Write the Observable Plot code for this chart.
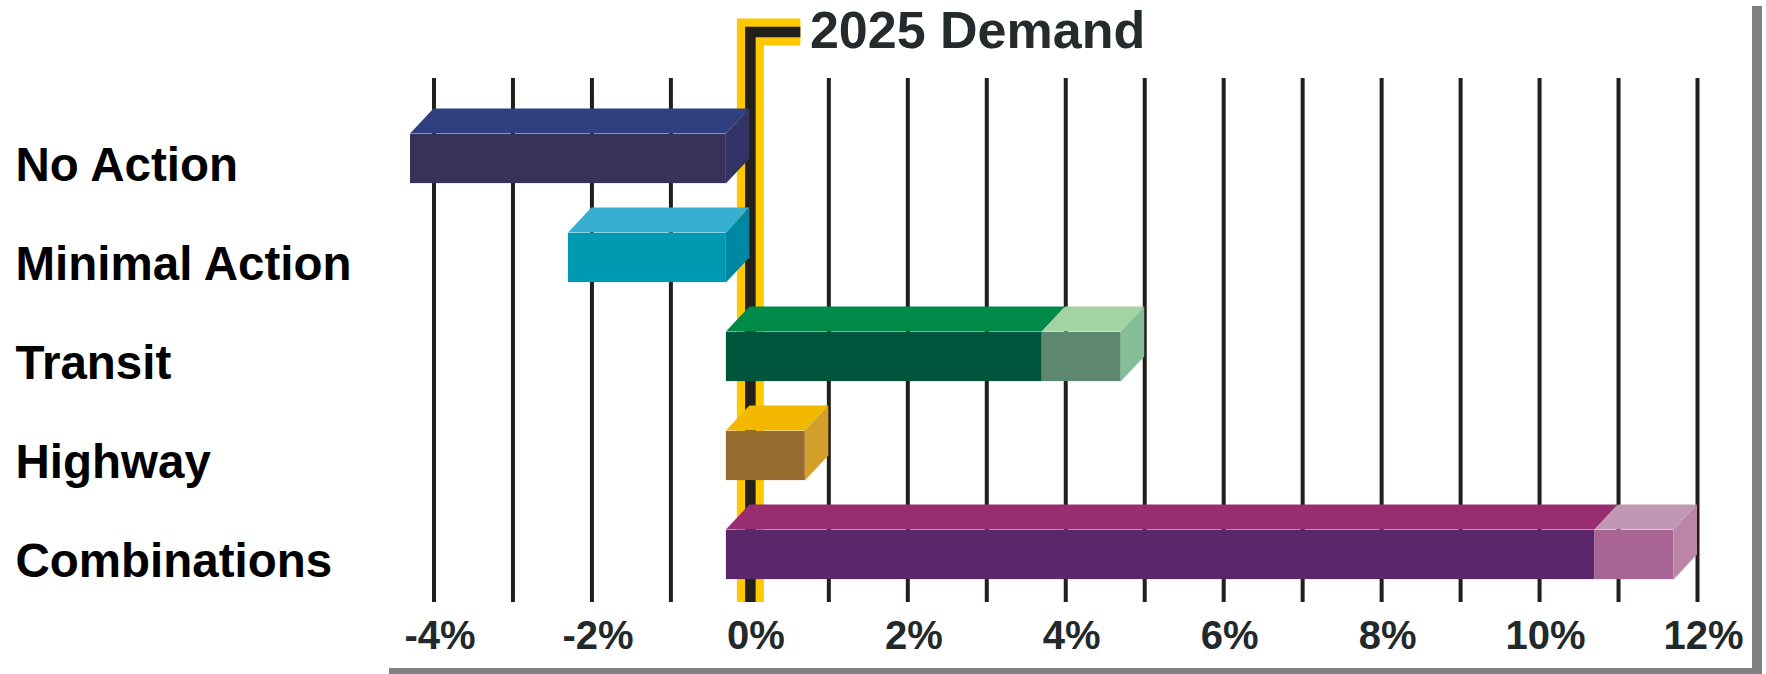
<!DOCTYPE html>
<html>
<head>
<meta charset="utf-8">
<script src="https://cdn.jsdelivr.net/npm/d3@7"></script>
<script src="https://cdn.jsdelivr.net/npm/@observablehq/plot@0.6"></script>
<style>
  html, body { margin: 0; padding: 0; background: #ffffff; }
  #chart { width: 1766px; height: 674px; overflow: hidden; }
</style>
</head>
<body>
<div id="chart"></div>
<script>
// ---- data ----
const categories = ["No Action", "Minimal Action", "Transit", "Highway", "Combinations"];
const segCategory = ["No Action", "Minimal Action", "Transit", "Transit", "Highway", "Combinations", "Combinations"];
const segStart    = [-4, -2, 0, 4, 0, 0, 11];
const segEnd      = [0, 0, 4, 5, 1, 11, 12];
const segFront    = ["#383159", "#0099B2", "#00553D", "#5E8770", "#986C30", "#59276A", "#A86492"];
const segTop      = ["#2F3F7F", "#36AFD0", "#008A4A", "#A3D2A3", "#F2B800", "#982E71", "#C297B3"];
const segSide     = ["#323468", "#0088A2", "#00704A", "#86BE98", "#D5A029", "#7A2A6E", "#BA85A7"];
const tickValues  = [-4, -2, 0, 2, 4, 6, 8, 10, 12];
const gridValues  = [-4, -3, -2, -1, 1, 2, 3, 4, 5, 6, 7, 8, 9, 10, 11, 12];
const demandValue = 0;
const demandLabel = "2025 Demand";

const segments = segCategory.map((c, i) => ({
  category: c, start: segStart[i], end: segEnd[i],
  front: segFront[i], top: segTop[i], side: segSide[i],
  showSide: !segCategory.some((c2, j) => j !== i && c2 === c && segStart[j] === segEnd[i])
}));

// ---- geometry constants (pixels) ----
const DX = 23.5;      // 3D depth, horizontal
const DY = 25;        // 3D depth, vertical
const FACE_H = 50;    // front face height
const BAND = 99.8;

const W = 1766, H = 674;
const FONT = "'Liberation Sans', Arial, Helvetica, sans-serif";

function tops3d(index, scales) {
  const {x, y} = scales;
  const bw = y.bandwidth();
  const g = d3.create("svg:g");
  for (const s of segments) {
    const yc = y(s.category) + bw / 2;
    const yf = yc - FACE_H / 2, yb = yc + FACE_H / 2;
    const xa = x(s.start), xb = x(s.end);
    g.append("polygon")
      .attr("points", [[xa - DX, yf], [xb - DX, yf], [xb, yf - DY], [xa, yf - DY]].join(" "))
      .attr("fill", s.top);
    if (s.showSide) {
      g.append("polygon")
        .attr("points", [[xb - DX, yf], [xb, yf - DY], [xb, yb - DY], [xb - DX, yb]].join(" "))
        .attr("fill", s.side);
    }
  }
  return g.node();
}

function demandBracket(index, scales, values, dims) {
  const x0 = scales.x(demandValue) + 1;
  const bottom = dims.height - dims.marginBottom;
  const top = dims.marginTop - 46;
  const d = `M${x0},${bottom} V${top} H${x0 + 50}`;
  const g = d3.create("svg:g").attr("fill", "none").attr("stroke-linejoin", "miter").attr("stroke-linecap", "butt");
  g.append("path").attr("d", d).attr("stroke", "#FFC800").attr("stroke-width", 27);
  g.append("path").attr("d", d).attr("stroke", "#231F1A").attr("stroke-width", 10.5);
  return g.node();
}

function frameShadow(index, scales, values, dims) {
  const g = d3.create("svg:g").attr("fill", "#808080");
  g.append("rect").attr("x", 1752).attr("y", 6).attr("width", 10).attr("height", dims.height - 6);
  g.append("rect").attr("x", 389).attr("y", dims.height - 6).attr("width", 1762 - 389).attr("height", 6);
  return g.node();
}

const chart = Plot.plot({
  width: W,
  height: H,
  marginLeft: 433.5,
  marginRight: 69,
  marginTop: 78,
  marginBottom: 72,
  style: { background: "#ffffff", fontFamily: FONT, fontWeight: "bold", overflow: "visible" },
  x: { domain: [-4, 12], axis: null },
  y: { domain: categories, range: [156.7 - BAND / 2, 156.7 - BAND / 2 + BAND * 5], padding: 0, axis: null },
  color: { type: "identity" },
  marks: [
    Plot.ruleX(gridValues, { stroke: "#231F1A", strokeWidth: 4 }),
    demandBracket,
    Plot.barX(segments, {
      x1: "start", x2: "end", y: "category", fill: "front",
      dx: -DX, insetTop: (BAND - FACE_H) / 2, insetBottom: (BAND - FACE_H) / 2
    }),
    tops3d,
    Plot.text(categories, {
      y: d => d, text: d => d, frameAnchor: "left", textAnchor: "start", lineAnchor: "middle",
      dx: 15 - 433.5, dy: 7, fontSize: 47.5, fontWeight: "bold", fill: "#000000"
    }),
    Plot.text(tickValues, {
      x: d => d, text: d => `${d}%`, frameAnchor: "bottom", lineAnchor: "middle",
      dx: 6, dy: 33.6, fontSize: 40, fontWeight: "bold", fill: "#22292B"
    }),
    Plot.text([demandLabel], {
      x: () => demandValue, text: d => d, frameAnchor: "top", textAnchor: "start", lineAnchor: "middle",
      dx: 60, dy: -47, fontSize: 52, fontWeight: "bold", fill: "#252A2C"
    }),
    frameShadow
  ]
});

document.getElementById("chart").appendChild(chart);
</script>
</body>
</html>
